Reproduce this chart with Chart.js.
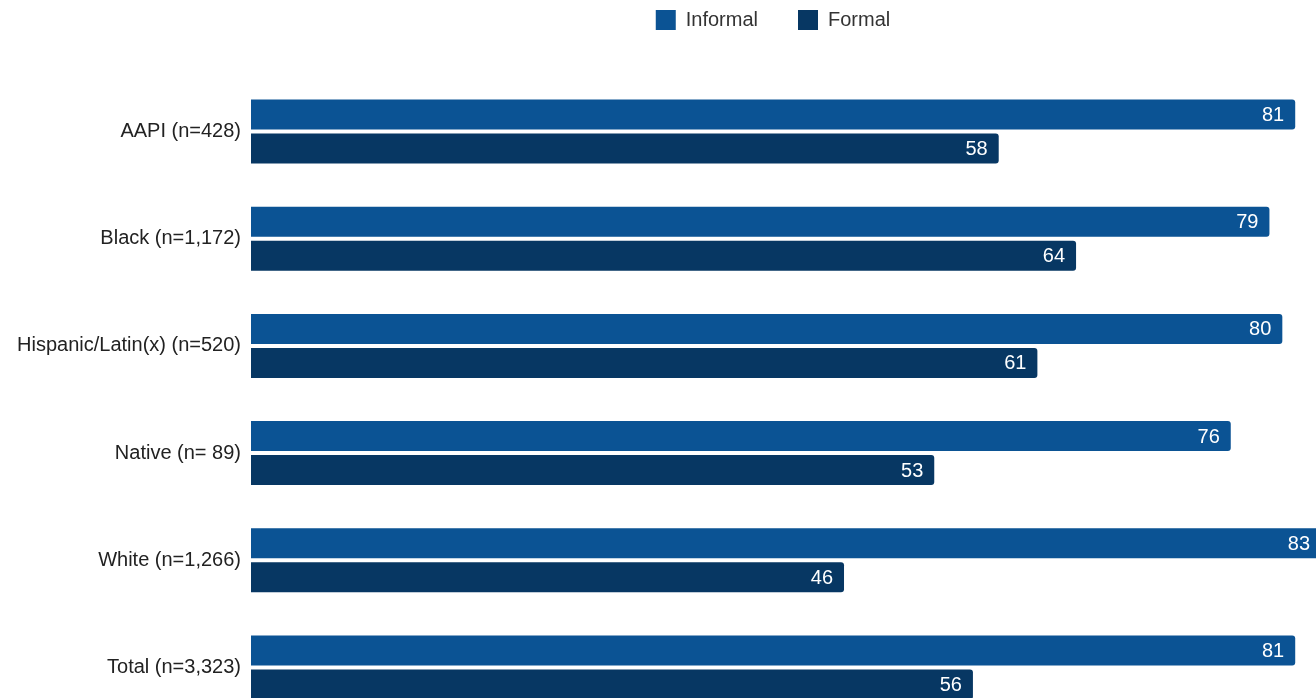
<!DOCTYPE html>
<html>
<head>
<meta charset="utf-8">
<script src="https://cdn.jsdelivr.net/npm/chart.js@4/dist/chart.umd.min.js"></script>
<style>
  html, body { margin: 0; padding: 0; overflow: hidden; background: #fff; }
  #wrap { position: relative; width: 1316px; height: 698px; overflow: hidden; }
  canvas { display: block; position: absolute; left: 0; top: 0; }
</style>
</head>
<body>
<div id="wrap">
  <canvas id="myChart" width="1321" height="698"></canvas>
</div>
<script>
var groups = ['AAPI (n=428)', 'Black (n=1,172)', 'Hispanic/Latin(x) (n=520)', 'Native (n= 89)', 'White (n=1,266)', 'Total (n=3,323)']
var informal = [81, 79, 80, 76, 83, 81]
var formal = [58, 64, 61, 53, 46, 56]

var FONT = '"Liberation Sans", Arial, sans-serif'

// white value text at the end of each bar
var valueLabels = {
  id: 'valueLabels',
  afterDatasetsDraw: function(chart) {
    var ctx = chart.ctx
    ctx.save()
    ctx.font = '20px ' + FONT
    ctx.fillStyle = '#ffffff'
    ctx.textAlign = 'right'
    ctx.textBaseline = 'middle'
    chart.data.datasets.forEach(function(ds, i) {
      chart.getDatasetMeta(i).data.forEach(function(bar, j) {
        ctx.fillText(ds.data[j], bar.x - 11, bar.y + 1)
      })
    })
    ctx.restore()
  }
}

// legend: fixed height, wide item spacing, nudged up/left
var legendTweak = {
  id: 'legendTweak',
  beforeInit: function(chart) {
    var lg = chart.legend
    var fit = lg.fit
    lg.fit = function() {
      fit.bind(lg)()
      this.height = 78
    }
    var draw = lg.draw
    lg.draw = function() {
      var c = chart.ctx
      c.save()
      c.translate(-13, -30)
      draw.apply(lg, arguments)
      c.restore()
    }
  }
}

// the original plot runs past the bottom edge (last bar is cut off)
var runOffBottom = {
  id: 'runOffBottom',
  afterLayout: function(chart) {
    var y = chart.scales.y
    y.bottom = 721
    y.height = y.bottom - y.top
    y.configure()
    chart.chartArea.bottom = 721
    chart.chartArea.height = chart.chartArea.bottom - chart.chartArea.top
  }
}

var ctx = document.getElementById('myChart').getContext('2d')
var chart = new Chart(ctx, {
  type: 'bar',
  data: {
    labels: groups,
    datasets: [{
      label: 'Informal',
      data: informal,
      backgroundColor: '#0b5394',
      borderRadius: 3,
      categoryPercentage: 0.635,
      barPercentage: 0.882
    },
    {
      label: 'Formal',
      data: formal,
      backgroundColor: '#073763',
      borderRadius: 3,
      categoryPercentage: 0.635,
      barPercentage: 0.882
    }]
  },
  options: {
    indexAxis: 'y',
    responsive: false,
    animation: false,
    devicePixelRatio: 1,
    layout: { padding: 0 },
    scales: {
      x: { display: false, min: 0, max: 83 },
      y: {
        grid: { display: false, drawTicks: false },
        border: { display: false },
        ticks: { padding: 10, color: '#222', font: { family: FONT, size: 20 } },
        afterFit: function(scale) { scale.width = 251 }
      }
    },
    plugins: {
      legend: {
        position: 'top',
        fullSize: false,
        labels: {
          boxWidth: 20,
          boxHeight: 20,
          padding: 40,
          color: '#333',
          font: { family: FONT, size: 20 }
        }
      },
      tooltip: { enabled: false }
    }
  },
  plugins: [valueLabels, legendTweak, runOffBottom]
})
</script>
</body>
</html>
